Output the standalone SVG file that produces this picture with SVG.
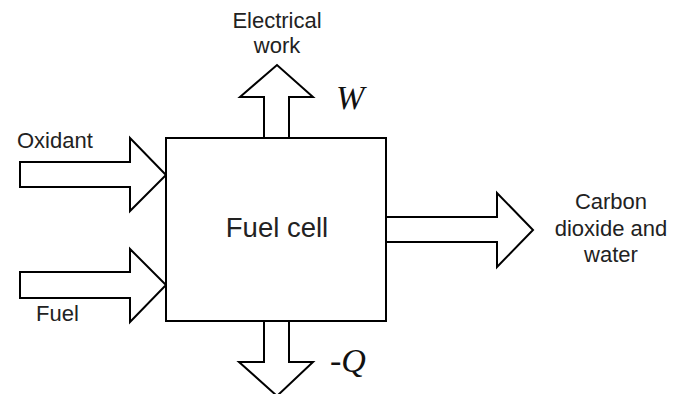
<svg xmlns="http://www.w3.org/2000/svg" width="675" height="394" viewBox="0 0 675 394">
<style>
.s{fill:#fff;stroke:#000;stroke-width:2;stroke-linejoin:miter}
.t{font-family:"Liberation Sans",Arial,sans-serif;font-size:22px;fill:#222}
.m{font-family:"Liberation Serif","Times New Roman",serif;font-style:italic;font-size:34px;fill:#111}
</style>
<rect width="675" height="394" fill="#fff"/>
<g id="connectors">
<path class="s" d="M20,162 H130 V138 L166,175 L130,211 V187 H20 Z"/>
<path class="s" d="M20,272 H130 V249 L166,285 L130,322 V298 H20 Z"/>
<path class="s" d="M264,138 V97 H240 L277,65 L313,97 H289 V138"/>
<path class="s" d="M264,321 V362 H239 L277,396 L313,362 H289 V321"/>
<path class="s" d="M386,217 H497 V193 L533,230 L497,267 V242 H386"/>
</g>
<g id="fuelcell">
<rect class="s" x="166" y="138" width="220" height="183"/>
<text class="t" x="277" y="237" text-anchor="middle" style="font-size:27.5px">Fuel cell</text>
</g>
<g id="oxidant"><text class="t" x="17" y="148">Oxidant</text></g>
<g id="fuel"><text class="t" x="36" y="321">Fuel</text></g>
<g id="work">
<text class="t" x="277" y="28" text-anchor="middle">Electrical</text>
<text class="t" x="277" y="53" text-anchor="middle">work</text>
<text class="m" x="336" y="109">W</text>
</g>
<g id="heat"><text class="m" x="330" y="372">-Q</text></g>
<g id="products">
<text class="t" x="611" y="209" text-anchor="middle">Carbon</text>
<text class="t" x="611" y="236" text-anchor="middle">dioxide and</text>
<text class="t" x="611" y="262" text-anchor="middle">water</text>
</g>
</svg>
